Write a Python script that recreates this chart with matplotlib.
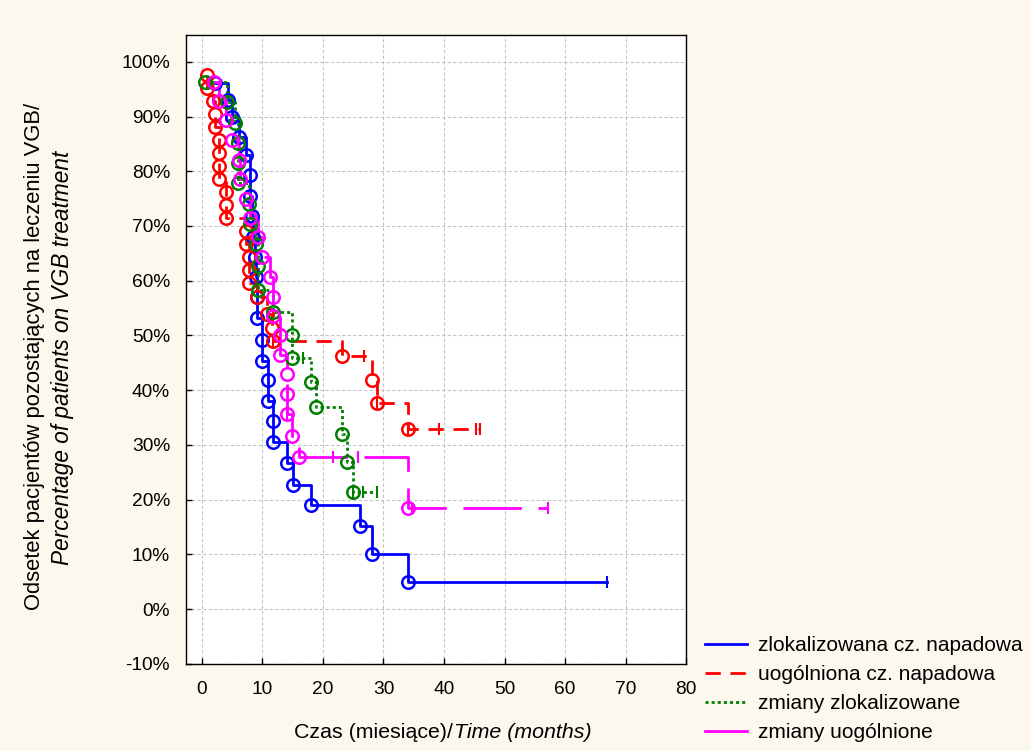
import matplotlib
matplotlib.use("Agg")
import matplotlib.pyplot as plt

plt.rcParams['font.family'] = ['Liberation Sans', 'DejaVu Sans']

# Kaplan-Meier estimates: event times (months) and survival (%) after each event
labels = ["zlokalizowana cz. napadowa", "uogólniona cz. napadowa",
          "zmiany zlokalizowane", "zmiany uogólnione"]

blue_t = [2.2, 4.3, 5.0, 6.2, 7.3, 7.9, 8.0, 8.2, 8.5, 8.8, 9.0, 9.1, 9.1,
          9.9, 9.9, 10.9, 10.9, 11.8, 11.8, 14.0, 15.0, 18.0, 26.1, 28.1, 34.0]
blue_s = [96.2, 93.0, 89.9, 86.3, 83.0, 79.3, 75.5, 71.8, 68.0, 64.3, 60.6, 57.0, 53.2,
          49.2, 45.4, 41.8, 38.1, 34.3, 30.5, 26.6, 22.7, 19.0, 15.2, 10.1, 5.0]
blue_cens_t = [67.0]
blue_cens_s = [5.0]

red_t = [0.8, 0.8, 1.8, 2.1, 2.1, 2.8, 2.8, 2.8, 2.8, 4.0, 4.0, 4.0, 7.2, 7.2,
         7.8, 7.8, 7.8, 9.1, 10.7, 11.6, 11.8, 23.1, 28.1, 28.9, 34.0]
red_s = [97.6, 95.2, 92.9, 90.5, 88.1, 85.7, 83.3, 81.0, 78.6, 76.2, 73.8, 71.4, 69.0, 66.7,
         64.3, 61.9, 59.5, 57.1, 54.0, 51.4, 49.0, 46.2, 41.9, 37.7, 32.9]
red_cens_t = [11.8, 26.8, 28.9, 34.0, 39.1, 45.3, 45.9]
red_cens_s = [49.0, 46.2, 37.7, 32.9, 32.9, 32.9, 32.9]

green_t = [0.5, 4.2, 5.5, 6.0, 6.0, 6.0, 7.7, 8.0, 9.0, 9.3, 9.3, 11.7, 14.9, 14.9,
           18.1, 18.8, 23.2, 23.9, 25.0]
green_s = [96.3, 92.6, 88.9, 85.2, 81.5, 77.8, 74.1, 70.4, 66.7, 62.6, 58.3, 54.3, 50.1, 45.9,
           41.5, 36.9, 32.0, 26.8, 21.3]
green_cens_t = [16.7, 25.0, 26.6, 29.0]
green_cens_s = [45.9, 21.3, 21.3, 21.3]

mag_t = [2.0, 2.8, 4.0, 5.0, 6.2, 6.3, 7.2, 7.9, 9.2, 10.0, 11.2, 11.7, 11.7, 12.9,
         12.9, 14.1, 14.1, 14.1, 14.9, 16.0, 34.0]
mag_s = [96.4, 92.9, 89.3, 85.7, 82.1, 78.6, 75.0, 71.4, 67.9, 64.3, 60.7, 57.1, 53.6, 50.0,
         46.4, 42.9, 39.3, 35.7, 31.7, 27.8, 18.5]
mag_cens_t = [14.1, 21.7, 25.8, 34.7, 57.2]
mag_cens_s = [35.7, 27.8, 27.8, 18.5, 18.5]

yticks = list(range(-10, 101, 10))
xticks = list(range(0, 81, 10))


def step_path(t, s, cens_t):
    xs, ys = [t[0]], [s[0]]
    for i in range(1, len(t)):
        xs += [t[i], t[i]]
        ys += [s[i - 1], s[i]]
    end = max([t[-1]] + list(cens_t))
    xs.append(end)
    ys.append(s[-1])
    return xs, ys


fig = plt.figure(figsize=(10.31, 7.51), dpi=100, facecolor='#fdf8ee')
ax = fig.add_axes([0.1804, 0.1158, 0.485, 0.8376])
ax.set_facecolor('white')

series = [
    (blue_t, blue_s, blue_cens_t, blue_cens_s, 'blue', '-'),
    (red_t, red_s, red_cens_t, red_cens_s, 'red', (0, (5.5, 3.5))),
    (green_t, green_s, green_cens_t, green_cens_s, 'green', (0, (1.1, 1.1))),
    (mag_t, mag_s, mag_cens_t, mag_cens_s, 'magenta', (0, (21, 6))),
]

for (t, s, ct, cs, col, ls), lab in zip(series, labels):
    xs, ys = step_path(t, s, ct)
    ax.plot(xs, ys, color=col, lw=2.0, linestyle=ls, label=lab, zorder=3)
    ax.plot(t, s, linestyle='none', marker='o', ms=9, mfc='none', mec=col, mew=1.8, zorder=4)
    ax.plot(ct, cs, linestyle='none', marker='|', ms=9, mec=col, mew=1.5, zorder=4)

ax.set_xlim(-2.64, 80)
ax.set_ylim(-10.05, 104.9)
ax.set_xticks(xticks)
ax.set_yticks(yticks)
ax.set_yticklabels([f"{v}%" for v in yticks])
ax.tick_params(direction='in', length=4, width=1, labelsize=13.8, color='black')
ax.tick_params(axis='y', pad=11.5)
ax.tick_params(axis='x', pad=12)
ax.grid(True, color='#c4c4c4', linestyle=(0, (3, 2)), lw=0.8, zorder=0)
ax.set_axisbelow(True)
for sp in ax.spines.values():
    sp.set_color('black')
    sp.set_linewidth(1.0)

# y axis label (two lines, second italic)
fig.text(35 / 1031, 1 - 356 / 751, "Odsetek pacjentów pozostających na leczeniu VGB/",
         rotation=90, ha='center', va='center', fontsize=15.8)
fig.text(63 / 1031, 1 - 358 / 751, "Percentage of patients on VGB treatment",
         rotation=90, ha='center', va='center', fontsize=16.3, style='italic')

# x axis label (second part italic)
fig.text(453 / 1031, 1 - 732 / 751, "Czas (miesiące)/", ha='right', va='center', fontsize=15.4)
fig.text(454 / 1031, 1 - 732 / 751, "Time (months)", ha='left', va='center', fontsize=15.4,
         style='italic')

leg_handles = []
for (t, s, ct, cs, col, ls) in series:
    leg_handles.append(plt.Line2D([0], [0], color=col, lw=2.0,
                                  linestyle=ls if col != 'magenta' else '-'))
fig.legend(leg_handles, labels, loc='upper left', bbox_to_anchor=(705 / 1031, 1 - 636 / 751),
           frameon=False, fontsize=15, handlelength=2.0, handletextpad=0.55,
           labelspacing=0.48, borderaxespad=0, borderpad=0)

fig.savefig("out.png", dpi=100, facecolor=fig.get_facecolor())
